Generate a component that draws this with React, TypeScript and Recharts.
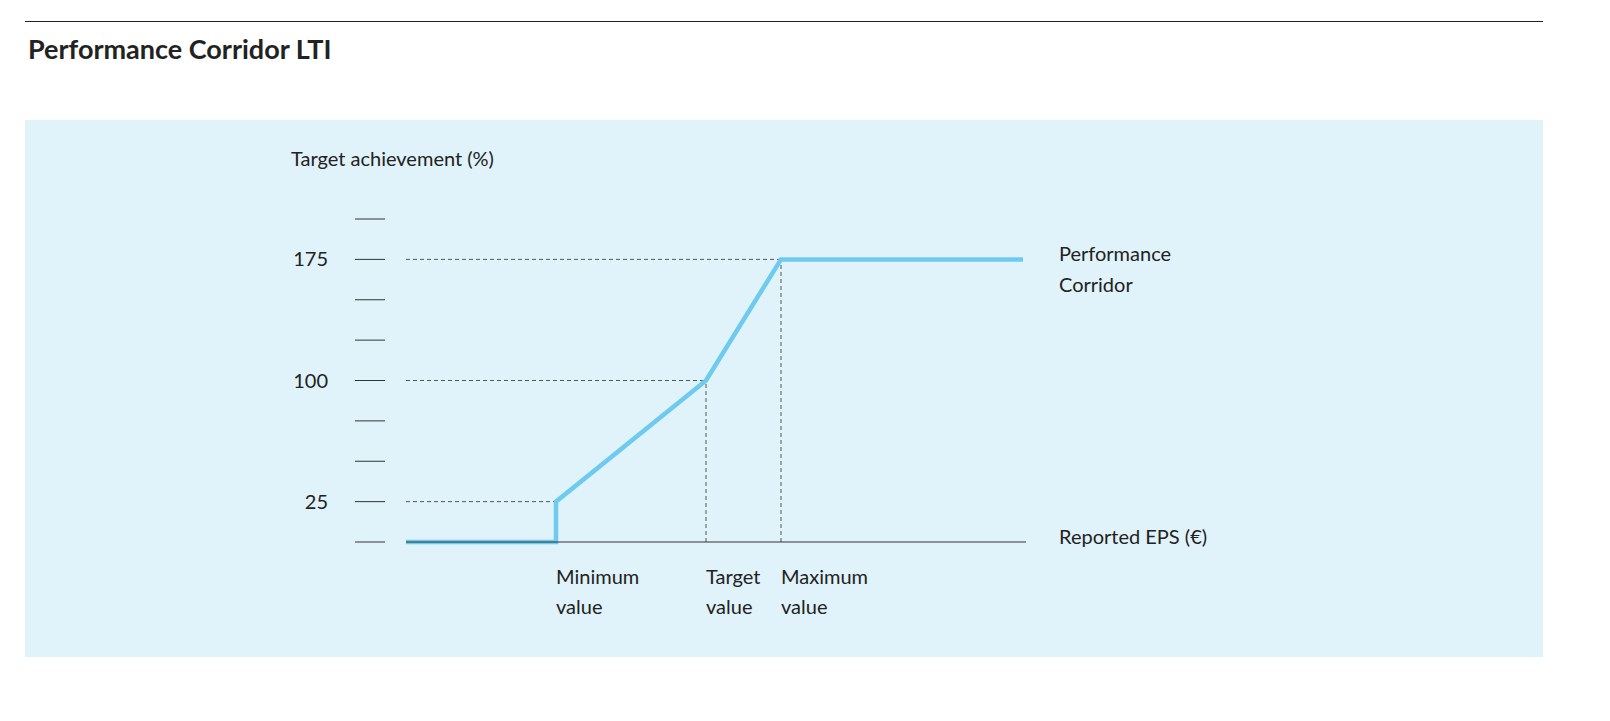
import { LineChart, Line, XAxis, YAxis, ReferenceLine } from 'recharts'

const corridorX = [0, 150, 150, 300, 375, 617]
const corridorY = [0, 0, 25, 100, 175, 175]
const yTicks = [0, 25, 50, 75, 100, 125, 150, 175, 200]
const yLabels = [25, 100, 175]
const xTicks = [150, 300, 375]
const xTickLabels = [['Minimum', 'value'], ['Target', 'value'], ['Maximum', 'value']]

const data = corridorX.map((x, i) => ({ x, y: corridorY[i] }))

const FONT = 'Lato, "Open Sans", sans-serif'
const LINE = '#6ecbef'
const DASH = '#555'

function YTick(props: any) {
  const { y, payload } = props
  const v = payload.value
  return (
    <g>
      <line x1={355} x2={385} y1={y} y2={y} stroke="#333" strokeWidth={1} />
      {yLabels.includes(v) && (
        <text x={328} y={y + 7} textAnchor="end" fontSize={20} fill="#222" fontFamily={FONT}>
          {v}
        </text>
      )}
    </g>
  )
}

function XTick(props: any) {
  const { x, y, payload } = props
  const idx = xTicks.indexOf(payload.value)
  const lines = xTickLabels[idx] || []
  return (
    <g>
      {lines.map((t, i) => (
        <text key={i} x={x} y={y + 34 + i * 30} fontSize={20} fill="#222" fontFamily={FONT}>
          {t}
        </text>
      ))}
    </g>
  )
}

export default function App() {
  return (
    <div style={{ position: 'absolute', left: 0, top: 0, width: 1610, height: 721, background: '#fff', fontFamily: FONT, color: '#222' }}>
      <div style={{ position: 'absolute', left: 25, top: 21, width: 1518, borderTop: '1.5px solid #222' }} />
      <div style={{ position: 'absolute', left: 28, top: 32, fontSize: 27, fontWeight: 700 }}>Performance Corridor LTI</div>
      <div style={{ position: 'absolute', left: 25, top: 120, width: 1518, height: 537, background: '#e0f3fa' }} />
      <div style={{ position: 'absolute', left: 291, top: 146, fontSize: 20 }}>Target achievement (%)</div>
      <div style={{ position: 'absolute', left: 1059, top: 238, fontSize: 20, lineHeight: '31px' }}>Performance<br />Corridor</div>
      <div style={{ position: 'absolute', left: 1059, top: 524, fontSize: 20 }}>Reported EPS (€)</div>
      <div style={{ position: 'absolute', left: 0, top: 0 }}>
        <LineChart width={1610} height={721} data={data} margin={{ top: 219, right: 584, bottom: 99, left: 346 }}>
          <XAxis
            dataKey="x"
            type="number"
            domain={[0, 620]}
            ticks={xTicks}
            tick={<XTick />}
            tickLine={false}
            axisLine={{ stroke: '#333', strokeWidth: 1 }}
            height={80}
          />
          <YAxis
            type="number"
            domain={[0, 200]}
            ticks={yTicks}
            tick={<YTick />}
            tickLine={false}
            axisLine={false}
            width={60}
          />
          <ReferenceLine segment={[{ x: 0, y: 175 }, { x: 375, y: 175 }]} stroke={DASH} strokeDasharray="4 3" />
          <ReferenceLine segment={[{ x: 0, y: 100 }, { x: 300, y: 100 }]} stroke={DASH} strokeDasharray="4 3" />
          <ReferenceLine segment={[{ x: 0, y: 25 }, { x: 150, y: 25 }]} stroke={DASH} strokeDasharray="4 3" />
          <ReferenceLine segment={[{ x: 300, y: 0 }, { x: 300, y: 100 }]} stroke={DASH} strokeDasharray="4 3" />
          <ReferenceLine segment={[{ x: 375, y: 0 }, { x: 375, y: 175 }]} stroke={DASH} strokeDasharray="4 3" />
          <Line dataKey="y" type="linear" stroke={LINE} strokeWidth={4.5} dot={false} isAnimationActive={false} />
        </LineChart>
      </div>
    </div>
  )
}
